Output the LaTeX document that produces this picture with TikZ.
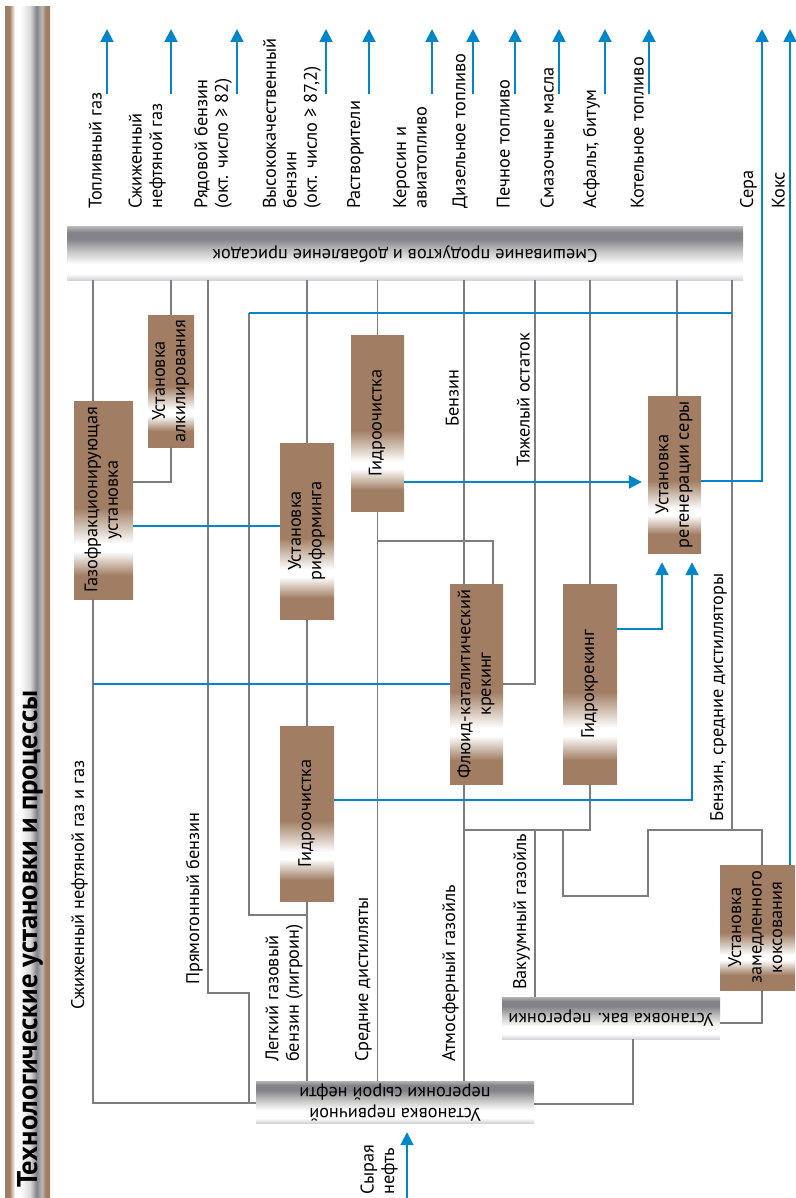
\documentclass[tikz,border=0pt]{standalone}
\usepackage{fontspec}
\usepackage{graphicx}
\setmainfont{PT Sans}
\usetikzlibrary{arrows.meta}

\definecolor{unitbrown}{RGB}{161,126,99}
\definecolor{pipeblue}{RGB}{0,134,201}
\definecolor{linegray}{RGB}{124,124,129}
\definecolor{metaldark}{RGB}{130,131,136}
\definecolor{metallight}{RGB}{212,212,215}

\pgfdeclareverticalshading{metalbar}{100bp}{color(0bp)=(metallight); color(25bp)=(metallight); color(31bp)=(white); color(40bp)=(white); color(52bp)=(gray!45); color(64bp)=(metaldark); color(70bp)=(metaldark); color(75bp)=(gray!60); color(100bp)=(gray!60)}
\pgfdeclareverticalshading{unitshade}{100bp}{color(0bp)=(unitbrown); color(31bp)=(unitbrown); color(37bp)=(white); color(39bp)=(white); color(48bp)=(unitbrown); color(100bp)=(unitbrown)}
\pgfdeclarehorizontalshading{titleshade}{100bp}{color(0bp)=(unitbrown); color(30bp)=(unitbrown); color(36bp)=(white); color(42bp)=(white); color(53bp)=(gray!30); color(60bp)=(metaldark); color(66bp)=(gray!55); color(70bp)=(unitbrown); color(100bp)=(unitbrown)}

\newcommand{\lblfont}{\fontsize{18.3}{20.5}\selectfont}
\newcommand{\vtxt}[1]{\rotatebox{90}{\begin{tabular}{@{}c@{}}#1\end{tabular}}}
\newcommand{\utxt}[1]{\rotatebox{180}{\begin{tabular}{@{}c@{}}#1\end{tabular}}}

\tikzset{
  flow/.style={draw=linegray, line width=1.8pt},
  h2/.style={draw=pipeblue, line width=2pt},
  prod/.style={h2, -{Triangle[length=13pt,width=13pt]}},
  unit/.style={shade, shading=unitshade, inner sep=0pt},
  bar/.style={shade, shading=metalbar, inner sep=0pt},
  note/.style={rotate=90, anchor=south west, inner sep=0pt, align=left},
}

\begin{document}
\begin{tikzpicture}[x=1pt, y=-1pt, font=\lblfont]
  \useasboundingbox (0,0) rectangle (795,1198);

  % title bar
  \shade[shading=titleshade] (5,7) rectangle (50,1198);
  \node[rotate=90, anchor=base west, inner sep=0pt,
    font=\fontsize{28.5}{32}\selectfont\bfseries] (title) at (37,1188)
    {Технологические установки и процессы};

  % bars
  \node[bar, minimum width=676pt, minimum height=53pt] (mix) at (405,253.5)
    {\utxt{Смешивание продуктов и добавление присадок}};
  \node[bar, minimum width=278pt, minimum height=42pt] (cdu) at (395,1102)
    {\utxt{Установка первичной\\перегонки сырой нефти}};
  \node[bar, minimum width=218pt, minimum height=42pt] (vdu) at (611,1018)
    {\utxt{Установка вак. перегонки}};

  % units
  \node[unit, minimum width=59pt, minimum height=198pt] (gfu) at (103.5,500)
    {\vtxt{Газофракционирующая\\установка}};
  \node[unit, minimum width=46pt, minimum height=132pt] (alk) at (171,381)
    {\vtxt{Установка\\алкилирования}};
  \node[unit, minimum width=54pt, minimum height=176pt] (ref) at (307,531)
    {\vtxt{Установка\\риформинга}};
  \node[unit, minimum width=53pt, minimum height=176pt] (ht1) at (377.5,423)
    {\vtxt{Гидроочистка}};
  \node[unit, minimum width=54pt, minimum height=175pt] (ht2) at (307,813.5)
    {\vtxt{Гидроочистка}};
  \node[unit, minimum width=53pt, minimum height=200pt] (fcc) at (476.5,684)
    {\vtxt{Флюид-каталитический\\крекинг}};
  \node[unit, minimum width=54pt, minimum height=200pt] (hcr) at (590,684)
    {\vtxt{Гидрокрекинг}};
  \node[unit, minimum width=53pt, minimum height=157pt] (sru) at (674.5,474.5)
    {\vtxt{Установка\\регенерации серы}};
  \node[unit, minimum width=75pt, minimum height=125pt] (dcu) at (757.5,927.5)
    {\vtxt{Установка\\замедленного\\коксования}};

  % products
  \node[note] (p1) at (102,209) {Топливный газ};
  \node[note] (p2) at (166,209) {Сжиженный\\нефтяной газ};
  \node[note] (p3) at (232,209) {Рядовой бензин\\(окт. число ≥ 82)};
  \node[note] (p4) at (321,209) {Высококачественный\\бензин\\(окт. число ≥ 87,2)};
  \node[note] (p5) at (364,209) {Растворители};
  \node[note] (p6) at (427,209) {Керосин и\\авиатопливо};
  \node[note] (p7) at (468,209) {Дизельное топливо};
  \node[note] (p8) at (510,209) {Печное топливо};
  \node[note] (p9) at (554,209) {Смазочные масла};
  \node[note] (p10) at (600,209) {Асфальт, битум};
  \node[note] (p11) at (644,209) {Котельное топливо};
  \node[note] (p12) at (757,209) {Сера};
  \node[note] (p13) at (785,209) {Кокс};
  \draw[prod] (107,94) -- (107,29);
  \draw[prod] (171,94) -- (171,29);
  \draw[prod] (237,94) -- (237,29);
  \draw[prod] (326,94) -- (326,29);
  \draw[prod] (369,94) -- (369,29);
  \draw[prod] (432,94) -- (432,29);
  \draw[prod] (473,94) -- (473,29);
  \draw[prod] (515,94) -- (515,29);
  \draw[prod] (559,94) -- (559,29);
  \draw[prod] (605,94) -- (605,29);
  \draw[prod] (649,94) -- (649,29);

  % stream labels
  \node[note] (crude) at (398,1195) {Сырая\\нефть};
  \node[note] (lpg) at (88,1010) {Сжиженный нефтяной газ и газ};
  \node[note] (srn) at (203,985) {Прямогонный бензин};
  \node[note] (lnap) at (303,1062) {Легкий газовый\\бензин (лигроин)};
  \node[note] (mdist) at (372,1062) {Средние дистилляты};
  \node[note] (ago) at (459,1062) {Атмосферный газойль};
  \node[note] (vgo) at (530,990) {Вакуумный газойль};
  \node[note] (fccg) at (459,427) {Бензин};
  \node[note] (hres) at (530,467) {Тяжелый остаток};
  \node[note] (cokp) at (727,822) {Бензин, средние дистилляторы};

  % process streams
  \draw[flow] (gfu.north -| 93,0) -- (mix.south -| 93,0);
  \draw[flow] (gfu.south -| 93,0) |- (cdu.west |- 0,1103);
  \draw[flow] (alk.north) -- (alk.north |- mix.south);
  \draw[flow] (gfu.east |- 0,482) -| (alk.south);
  \draw[flow] (mix.south -| 208,0) |- (249,993) |- (cdu.west |- 0,1103);
  \draw[flow] (ref.north) -- (ref.north |- mix.south);
  \draw[flow] (ref.south) -- (ht2.north);
  \draw[flow] (ht2.south) -- (ht2.south |- cdu.north);
  \draw[flow] (ht2.south |- 0,915) -| (249,313);
  \draw[flow] (ht1.north) -- (ht1.north |- mix.south);
  \draw[flow] (ht1.south) -- (ht1.south |- cdu.north);
  \draw[flow] (ht1.south |- 0,541) -| (fcc.north -| 493,0);
  \draw[flow] (fcc.north -| 464,0) -- (mix.south -| 464,0);
  \draw[flow] (fcc.south -| 464,0) -- (cdu.north -| 464,0);
  \draw[flow] (mix.south -| 535,0) |- (fcc.east);
  \draw[flow] (hcr.north) -- (hcr.north |- mix.south);
  \draw[flow] (464,830) -| (hcr.south);
  \draw[flow] (vdu.north -| 535,0) -- (535,830);
  \draw[flow] (563,830) |- (648,896) |- (762,830) -- (dcu.north -| 762,0);
  \draw[flow] (mix.south -| 732,0) -- (732,830);
  \draw[flow] (sru.north -| 677,0) -- (mix.south -| 677,0);
  \draw[flow] (vdu.east |- 0,1023) -| (dcu.south -| 762,0);
  \draw[flow] (vdu.south -| 633,0) |- (cdu.east |- 0,1104);

  % hydrogen and sour gas
  \draw[h2] (249,313) -- (732,313);
  \draw[h2] (gfu.east |- 0,526) -- (ref.west |- 0,526);
  \draw[h2] (fcc.west -| 93,0) -- (fcc.west);
  \draw[prod, shorten >=6pt] (ht1.east |- 0,482) -- (sru.west |- 0,482);
  \draw[prod, shorten >=9pt] (hcr.east |- 0,629) -| (sru.south -| 662,0);
  \draw[prod, shorten >=9pt] (ht2.east |- 0,800) -| (sru.south -| 692,0);
  \draw[prod] (sru.east |- 0,481) -| (762,29);
  \draw[prod] (dcu.north -| 790,0) -- (790,29);
  \draw[prod, shorten >=9pt] (407,1198) -- (cdu.south -| 407,0);
\end{tikzpicture}
\end{document}
